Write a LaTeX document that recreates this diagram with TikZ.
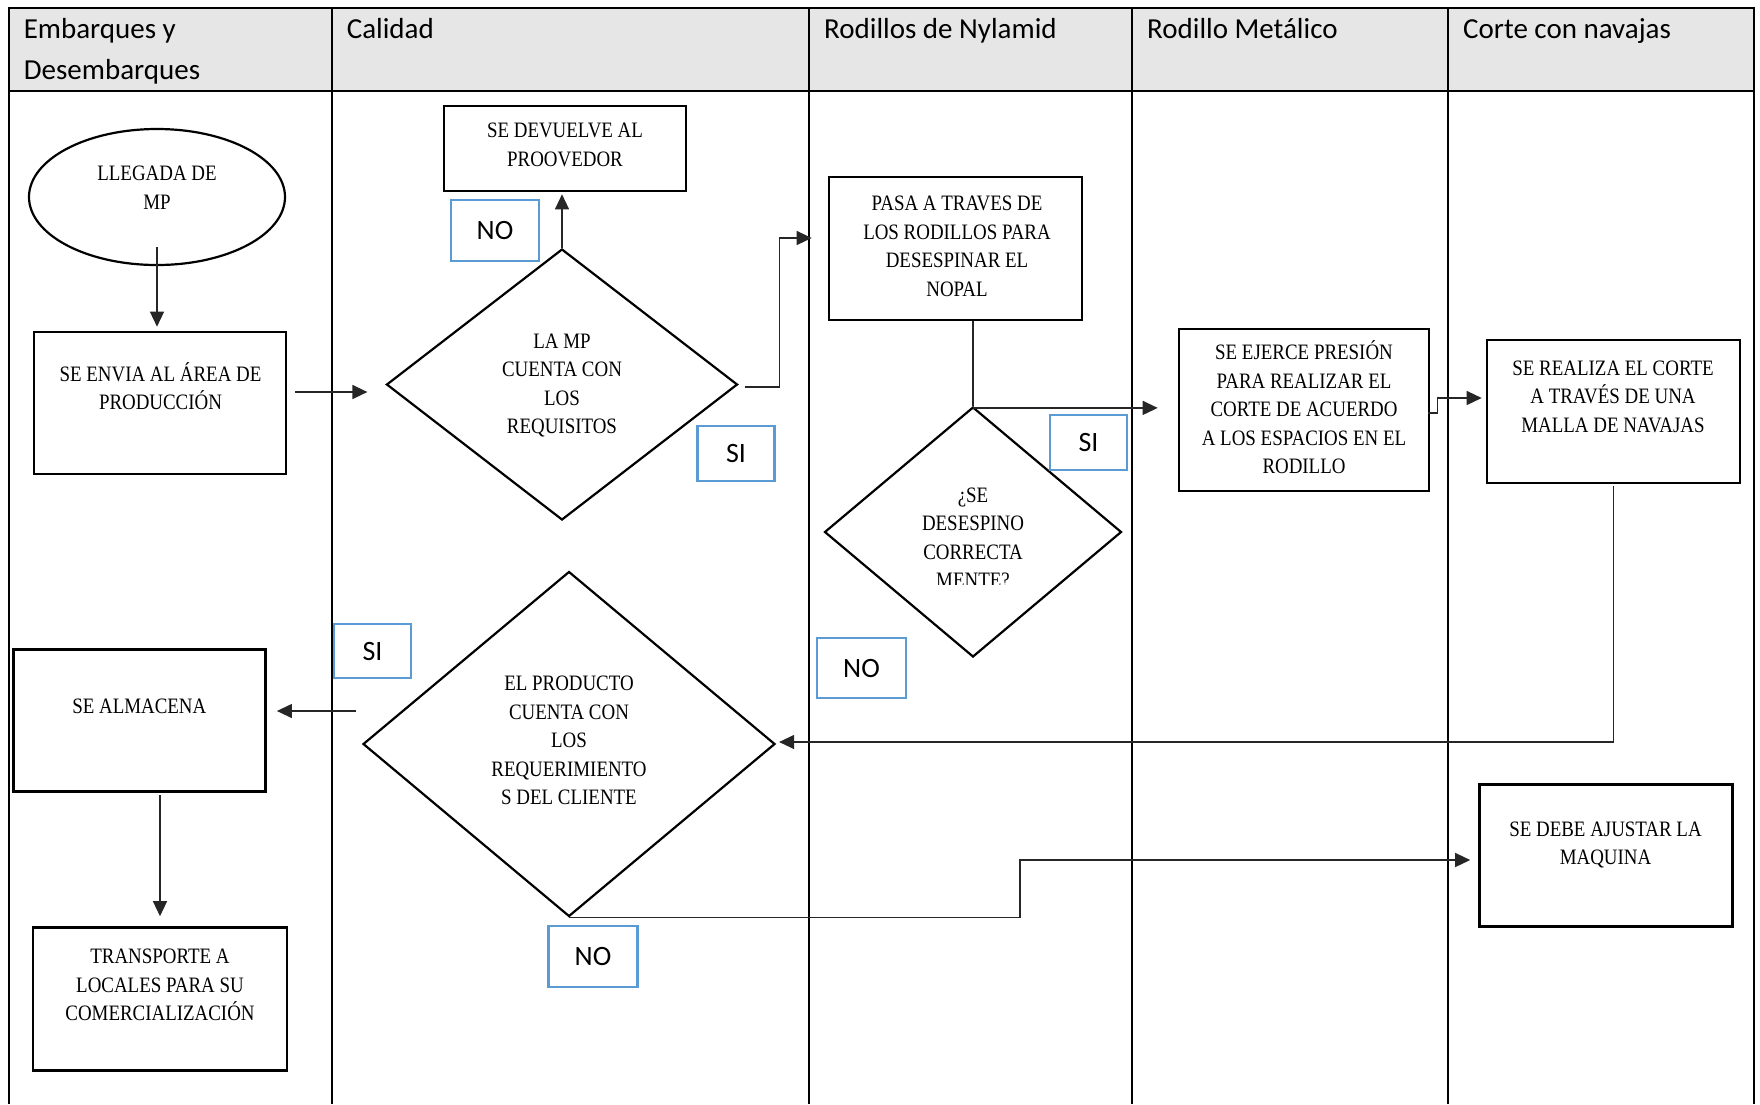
\documentclass[tikz,border=0pt]{standalone}
\usepackage{fontspec}
\setmainfont{Liberation Serif}
\newfontfamily\hdrfont{Carlito}
\newfontfamily\boxfont[FakeStretch=0.86]{Liberation Serif}
\usetikzlibrary{shapes.geometric,arrows.meta,calc}
\definecolor{hdrgray}{HTML}{E7E6E6}
\definecolor{lblblue}{HTML}{5B9BD5}
\definecolor{conn}{HTML}{262626}
\begin{document}
\begin{tikzpicture}[x=1pt,y=-1pt,
  lane/.style={line width=2pt,black},
  procbox/.style={draw,line width=2.6pt,rectangle,inner sep=0pt},
  decision/.style={draw,line width=2.2pt,diamond,inner sep=0pt,aspect=1},
  startend/.style={draw,line width=2.2pt,ellipse,inner sep=0pt},
  boxtxt/.style={font=\boxfont\fontsize{22}{28.5}\selectfont,align=center,inner sep=0pt},
  hdrtxt/.style={font=\hdrfont\fontsize{29}{40.5}\selectfont,align=left,inner sep=0pt,anchor=north west},
  lbl/.style={draw=lblblue,line width=2.5pt,rectangle,inner sep=0pt,font=\hdrfont\fontsize{28}{34}\selectfont},
  arr/.style={draw=conn,line width=1.3pt,-{Triangle[length=15pt,width=14pt]}},
  ln/.style={draw=conn,line width=1.3pt},
]
\useasboundingbox (0,0) rectangle (1760,1104);
% header band and lanes
\fill[hdrgray] (9,8) rectangle (1754,91);
\draw[lane] (9,8) -- (1754,8);
\draw[lane] (9,91) -- (1754,91);
\foreach \lx in {9,332,809,1131.5,1448,1754} {\draw[lane] (\lx,7) -- (\lx,1104);}
\node[hdrtxt] (h1) at (23.6,10) {\strut Embarques y\\Desembarques};
\node[hdrtxt] (h2) at (346.6,10) {\strut Calidad};
\node[hdrtxt] (h3) at (824,10) {\strut Rodillos de Nylamid};
\node[hdrtxt] (h4) at (1147,10) {\strut Rodillo Met\'alico};
\node[hdrtxt] (h5) at (1463,10) {\strut Corte con navajas};

% shapes
\node[startend, minimum width=256pt, minimum height=136pt] (e1) at (157,197) {};
\node[boxtxt] (t1) at (157,189.5) {\strut LLEGADA DE\\MP\strut};

\node[procbox, minimum width=252pt, minimum height=142pt] (b2) at (160,403) {};
\node[boxtxt] (t2) at (160.5,390) {\strut SE ENVIA AL ÁREA DE\\PRODUCCIÓN\strut};

\node[procbox, minimum width=242pt, minimum height=85pt] (b3) at (565,148.5) {};
\node[boxtxt] (t3) at (565,146.3) {\strut SE DEVUELVE AL\\PROOVEDOR\strut};

\node[decision, minimum width=351pt, minimum height=271pt] (d4) at (562,384.5) {};
\node[boxtxt] (t4) at (562,385.5) {\strut LA MP\\CUENTA CON\\LOS\\REQUISITOS\strut};

\node[procbox, minimum width=253pt, minimum height=143pt] (b5) at (955.5,248.5) {};
\node[boxtxt] (t5) at (957,248) {\strut PASA A TRAVES DE\\LOS RODILLOS PARA\\DESESPINAR EL\\NOPAL\strut};

\node[decision, minimum width=297pt, minimum height=250pt] (d6) at (973,532) {};
\begin{scope}
\clip (830,470) rectangle (1120,584);
\node[boxtxt] (t6) at (973,539.5) {\strut ¿SE\\DESESPINO\\CORRECTA\\MENTE?\strut};
\end{scope}

\node[procbox, minimum width=250pt, minimum height=162pt] (b7) at (1304,410) {};
\node[boxtxt] (t7) at (1304,411) {\strut SE EJERCE PRESIÓN\\PARA REALIZAR EL\\CORTE DE ACUERDO\\A LOS ESPACIOS EN EL\\RODILLO\strut};

\node[procbox, minimum width=253pt, minimum height=143pt] (b8) at (1613.5,411.5) {};
\node[boxtxt] (t8) at (1613,398) {\strut SE REALIZA EL CORTE\\A TRAVÉS DE UNA\\MALLA DE NAVAJAS\strut};

\node[decision, minimum width=412pt, minimum height=345pt] (d9) at (569,744) {};
\node[boxtxt] (t9) at (569,742) {\strut EL PRODUCTO\\CUENTA CON\\LOS\\REQUERIMIENTO\\S DEL CLIENTE\strut};

\node[procbox, minimum width=252pt, minimum height=142pt] (b10) at (139.6,720.5) {};
\node[boxtxt] (t10) at (139.3,706.5) {SE ALMACENA};

\node[procbox, minimum width=254pt, minimum height=143pt] (b11) at (160,999) {};
\node[boxtxt] (t11) at (160,986.5) {\strut TRANSPORTE A\\LOCALES PARA SU\\COMERCIALIZACIÓN\strut};

\node[procbox, minimum width=253pt, minimum height=142pt] (b12) at (1606,855.5) {};
\node[boxtxt] (t12) at (1605.5,845) {\strut SE DEBE AJUSTAR LA\\MAQUINA\strut};

% answer labels
\node[lbl, minimum width=88pt, minimum height=61pt] (l1) at (495,230.5) {NO};
\node[lbl, minimum width=77pt, minimum height=55pt] (l2) at (736,453.4) {SI};
\node[lbl, minimum width=77pt, minimum height=55pt] (l3) at (1088.5,442.5) {SI};
\node[lbl, minimum width=89pt, minimum height=60pt] (l4) at (861.5,668) {NO};
\node[lbl, minimum width=77pt, minimum height=54pt] (l5) at (372.5,651) {SI};
\node[lbl, minimum width=89pt, minimum height=61pt] (l6) at (593,956.7) {NO};

% connectors
\draw[arr, shorten >=4pt] ([yshift=19pt]e1.south) -- (e1.south |- b2.north);
\draw[arr, shorten <=8pt, shorten >=18pt] ([yshift=11pt]b2.east) -- ([yshift=11pt]b2.east -| d4.west);
\draw[arr, shorten >=2pt] (d4.north) -- (d4.north |- b3.south);
\draw[arr] ([xshift=6pt,yshift=-2.5pt]d4.east) -- ++(35,0) |- ([xshift=-16pt,yshift=10.5pt]b5.west);
\draw[ln] (b5.south -| d6.north) -- (d6.north);
\draw[arr, shorten >=20pt] ([yshift=-2pt]d6.north) -- ([yshift=-2pt]d6.north -| b7.west);
\draw[arr] ([xshift=-2pt,yshift=-3pt]b7.east) -- ++(9,0) |- ([xshift=-4pt,yshift=13.5pt]b8.west);
\draw[arr] ([yshift=-2pt]b8.south) |- ([xshift=3pt,yshift=2pt]d9.east);
\draw[arr, shorten >=10pt] ([xshift=-6pt,yshift=33pt]d9.west) -- ([yshift=33pt]d9.west -| b10.east);
\draw[arr, shorten <=2pt, shorten >=10pt] (b10.south -| b11.north) -- (b11.north);
\draw[arr] (d9.south) -- ++(451,0) |- ([xshift=-8pt,yshift=-4.5pt]b12.west);
\end{tikzpicture}
\end{document}
